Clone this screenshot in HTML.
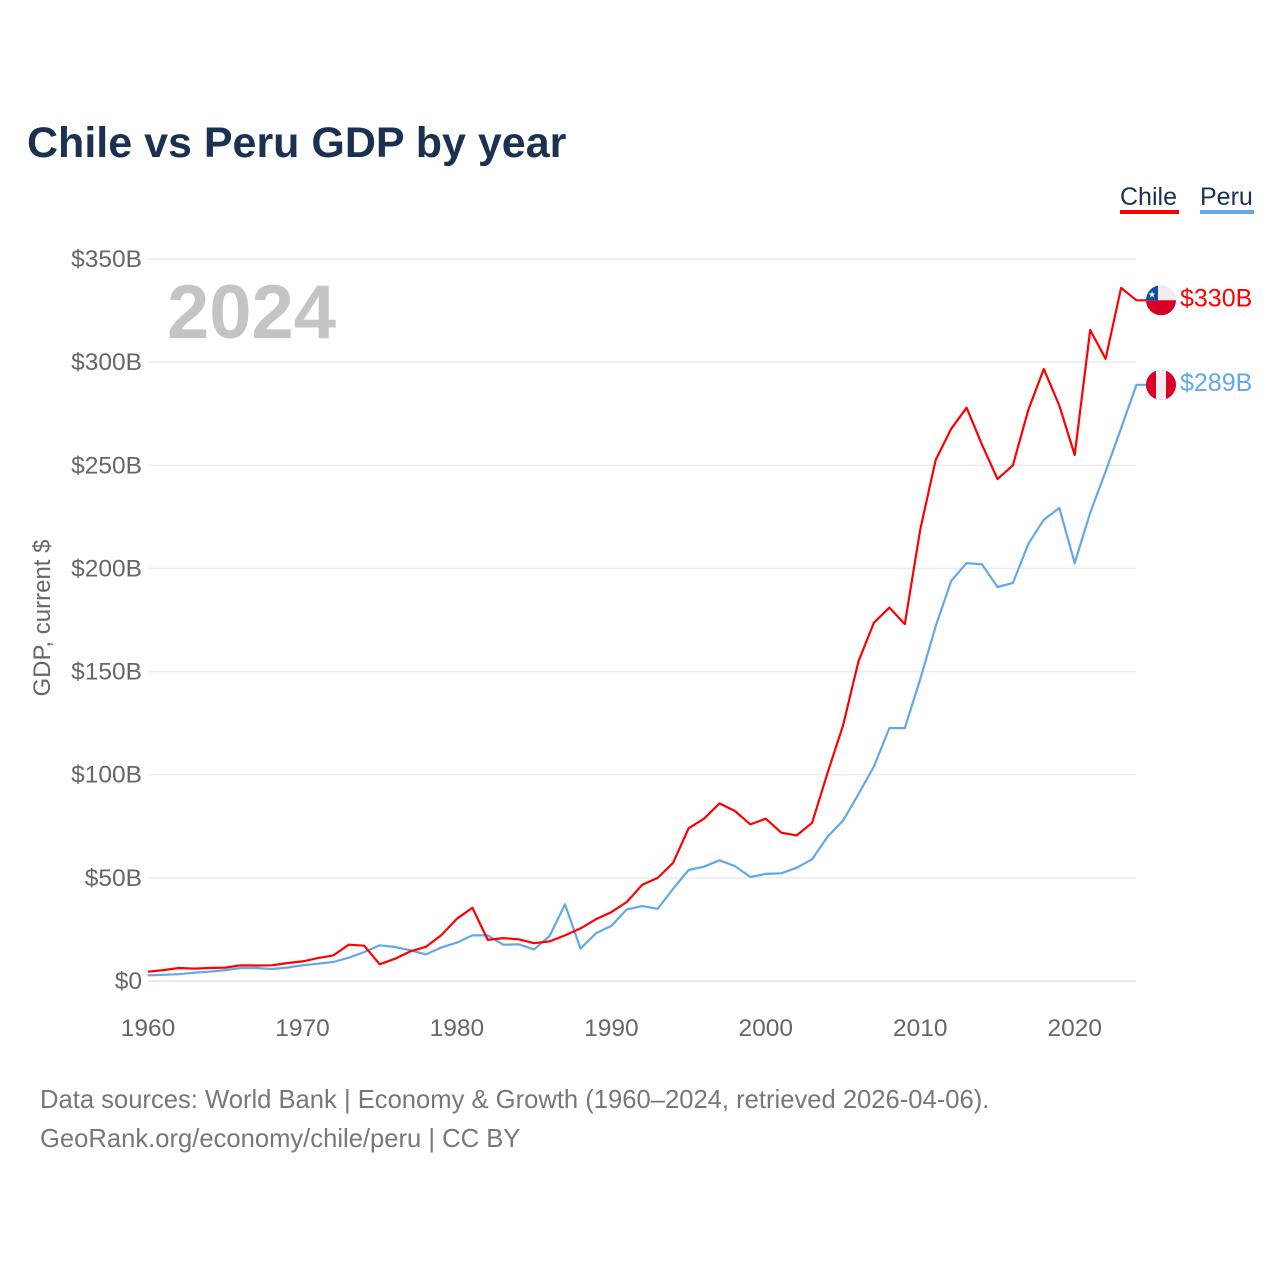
<!DOCTYPE html>
<html><head><meta charset="utf-8"><style>
body{margin:0;background:#fff;}
svg{display:block;font-family:"Liberation Sans",sans-serif;}
</style></head><body>
<svg id="chart" width="1280" height="1280" viewBox="0 0 1280 1280">
<rect width="1280" height="1280" fill="#fff"/>
<text x="27" y="157" font-size="43" font-weight="bold" fill="#1b3150">Chile vs Peru GDP by year</text>
<g>
 <text x="1120" y="205" font-size="25" fill="#1b3150">Chile</text>
 <rect x="1120" y="210" width="59" height="4" fill="#ff0000"/>
 <text x="1200" y="205" font-size="25" fill="#1b3150">Peru</text>
 <rect x="1200" y="210" width="54" height="4" fill="#62a8e8"/>
</g>
<text x="167" y="338" font-size="76" font-weight="bold" fill="#c4c4c4">2024</text>
<text transform="translate(50,618) rotate(-90)" text-anchor="middle" font-size="24" fill="#666">GDP, current $</text>
<g id="grid"></g><g id="series"></g><g id="labels"></g>
<text x="40" y="1108" font-size="25.6" fill="#777">Data sources: World Bank | Economy &amp; Growth (1960–2024, retrieved 2026-04-06).</text>
<text x="40" y="1147" font-size="25.6" fill="#777">GeoRank.org/economy/chile/peru | CC BY</text>
</svg>
<script>
const years = []; for (let y = 1960; y <= 2024; y++) years.push(y);
const chile = [4.5,5.3,6.3,6.0,6.3,6.5,7.6,7.5,7.6,8.7,9.5,11.1,12.4,17.6,17.1,8.1,10.8,14.4,16.6,22.3,30.2,35.5,19.9,20.8,20.2,18.3,19.2,22.1,25.5,29.9,33.4,38.3,46.7,50,57.3,74,78.7,86.1,82.4,75.9,78.7,71.9,70.6,76.7,101,123.8,155,173.7,181,173,219,252.6,267.7,277.9,260,243.3,250,277,296.7,279,255,315.6,301.6,336,330];
const peru = [2.7,3.0,3.3,4.0,4.5,5.3,6.3,6.3,5.8,6.5,7.6,8.4,9.2,11.3,14,17.3,16.5,14.9,12.9,16.3,18.6,22.1,22.1,17.6,17.8,15.3,21.8,37.2,15.7,23.1,26.7,34.7,36.3,35,44.7,53.8,55.4,58.5,55.7,50.4,51.9,52.2,54.9,59,70,77.7,90.6,104,122.6,122.6,146.4,172,194,202.6,202,191,193,212,223.6,229.3,202.6,227,247,268,289];
const yTicks = [0,50,100,150,200,250,300,350];
const yTickLabels = ["$0","$50B","$100B","$150B","$200B","$250B","$300B","$350B"];
const xTicks = [1960,1970,1980,1990,2000,2010,2020];
const endLabels = ["$330B","$289B"];

const NS = "http://www.w3.org/2000/svg";
const X = y => 148 + (y - 1960) * (1136.5 - 148) / 64;
const Y = v => 981 - v * (722 / 350);
function mk(tag, attrs, parent) { const e = document.createElementNS(NS, tag); for (const k in attrs) e.setAttribute(k, attrs[k]); parent.appendChild(e); return e; }
const grid = document.getElementById('grid'), series = document.getElementById('series'), labels = document.getElementById('labels');

yTicks.forEach((v, i) => {
  const l = mk('line', {x1:148, x2:1136, y1:Y(v), y2:Y(v), stroke: v===0?'#e2e2e2':'#ececec', 'stroke-width':1.5}, grid);
  
  
  const t = mk('text', {x:142, y:Y(v)+8, 'text-anchor':'end', 'font-size':24.5, fill:'#666'}, grid);
  t.textContent = yTickLabels[i];
  
  
});
xTicks.forEach(yr => {
  const t = mk('text', {x:X(yr), y:1036, 'text-anchor':'middle', 'font-size':24.5, fill:'#666'}, grid);
  t.textContent = yr;
  
  
});

function drawLine(vals, color, name) {
  let d = vals.map((v, i) => (i ? 'L' : 'M') + X(years[i]).toFixed(1) + ',' + Y(v).toFixed(1)).join(' ');
  d += ' L' + (X(2024) + 10) + ',' + Y(vals[vals.length-1]).toFixed(1);
  const p = mk('path', {d, fill:'none', stroke:color, 'stroke-width':2.2, 'stroke-linejoin':'round'}, series);
  
  
}
drawLine(peru, '#62a8e8', 'peru-line');
drawLine(chile, '#ff0000', 'chile-line');

const cy1 = Y(chile[chile.length-1]), cy2 = Y(peru[peru.length-1]);
const defs = mk('defs', {}, labels);
const cp1 = mk('clipPath', {id:'c1'}, defs); mk('circle', {cx:1161, cy:cy1, r:15}, cp1);
const cp2 = mk('clipPath', {id:'c2'}, defs); mk('circle', {cx:1161, cy:cy2, r:15}, cp2);
const f1 = mk('g', {'clip-path':'url(#c1)'}, labels);


mk('rect', {x:1146, y:cy1-15, width:30, height:15, fill:'#eeeeee'}, f1);
mk('rect', {x:1146, y:cy1, width:30, height:15, fill:'#d80027'}, f1);
mk('rect', {x:1146, y:cy1-15, width:12, height:15, fill:'#0d4fa3'}, f1);
const st = mk('text', {x:1152, y:cy1-3, 'text-anchor':'middle', 'font-size':9, fill:'#fff'}, f1); st.textContent = '★';
const f2 = mk('g', {'clip-path':'url(#c2)'}, labels);


mk('rect', {x:1146, y:cy2-15, width:30, height:30, fill:'#d80027'}, f2);
mk('rect', {x:1156, y:cy2-15, width:10, height:30, fill:'#eeeeee'}, f2);
[[cy1, '#ff0000', 0, 'chile-end-label'], [cy2, '#62a8e8', 1, 'peru-end-label']].forEach(([cy, c, i, n]) => {
  const t = mk('text', {x:1180, y:cy+6, 'font-size':25, fill:c}, labels);
  t.textContent = endLabels[i];
  
  
});
</script>
</body></html>
